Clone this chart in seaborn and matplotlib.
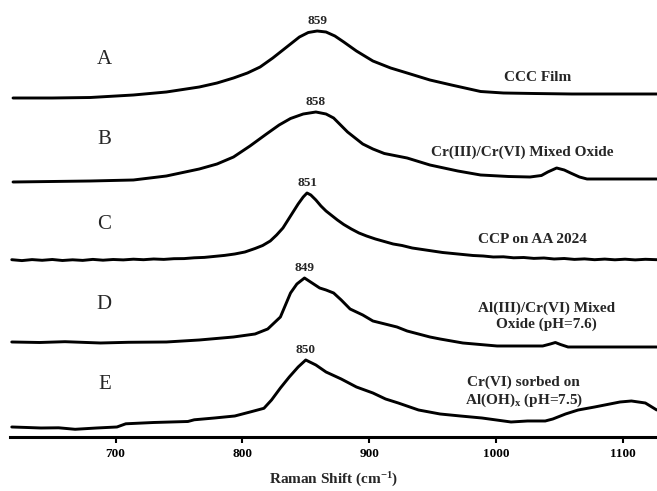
import numpy as np
import pandas as pd
import matplotlib
matplotlib.use("Agg")
import matplotlib.pyplot as plt
import seaborn as sns

# ---- spectra (Raman shift in cm-1, relative intensity in arbitrary units) ----
shift_A = [619, 650, 680, 714, 740, 766, 780, 793, 804, 814, 824, 832, 839, 845, 852,
           859, 866, 873, 880, 890, 903, 917, 930, 948, 965, 988, 1006, 1030, 1060, 1095, 1127]
int_A = [0, 0, 0.5, 3, 6, 11, 15, 20, 25, 31, 40, 48, 55, 61, 65.5,
         67, 66, 62, 56, 47, 37, 30, 25, 18, 13, 6.5, 5, 4.5, 4, 4, 4]

shift_B = [619, 680, 714, 740, 766, 780, 793, 806, 819, 829, 838, 848, 858, 866, 872,
           883, 890, 895, 903, 912, 930, 948, 970, 988, 1010, 1027, 1036, 1041, 1048,
           1054, 1059, 1066, 1072, 1100, 1127]
int_B = [0, 1, 2, 6, 13, 18, 25, 36, 48, 57, 63.5, 68, 70, 68, 64,
         50, 43, 38, 33, 28.5, 24, 17, 11, 7, 5.5, 5, 6.5, 10, 14,
         12, 9, 5, 3, 3, 3]

shift_C = [618, 626, 634, 642, 650, 658, 666, 674, 682, 690, 698, 706, 714, 722, 730,
           738, 746, 754, 762, 770, 778, 786, 794, 802, 810, 816, 822, 827, 832, 836,
           840, 844, 848, 851, 854, 858, 862, 866, 870, 875, 880, 886, 892, 898, 905,
           912, 919, 926, 934, 942, 950, 958, 966, 974, 982, 990, 998, 1006, 1014, 1022,
           1030, 1038, 1046, 1054, 1062, 1070, 1078, 1086, 1094, 1102, 1110, 1118, 1127]
int_C = [0.3, -0.6, 0.4, -0.3, 0.5, -0.5, 0.2, -0.4, 0.6, -0.2, 0.5, 0.1, 0.8, 0.3, 1.0,
         0.6, 1.3, 1.4, 2.2, 2.6, 3.6, 4.6, 6.0, 8.0, 11.5, 14.5, 19, 25, 32, 40,
         48, 56, 63, 67, 65, 60, 54, 49, 45, 40, 35.5, 31, 27, 24, 21,
         18.5, 16, 14.5, 12, 10.5, 9, 7.5, 6.5, 5.5, 4.5, 4.0, 3.0, 3.2, 2.2, 2.5,
         1.6, 2.0, 1.0, 1.5, 0.6, 1.1, 0.3, 0.9, 0.2, 0.8, 0.1, 0.7, 0.3]

shift_D = [618, 640, 660, 688, 710, 740, 766, 793, 810, 820, 830, 838, 843, 849, 855,
           861, 866, 872, 878, 885, 895, 903, 922, 930, 948, 956, 974, 1001, 1020, 1037,
           1043, 1047, 1051, 1057, 1070, 1100, 1127]
int_D = [0, -0.5, 0.3, -1, -0.3, 0, 2, 5, 8, 13, 25, 49, 58, 64, 59,
         54, 52, 49, 42, 33, 27, 21, 15, 11, 5, 3, -1, -4, -4, -4,
         -2, -0.5, -2.5, -5, -5, -5, -5]

shift_E = [618, 630, 641, 655, 668, 685, 701, 708, 730, 757, 762, 778, 794, 807, 817,
           823, 830, 837, 844, 850, 858, 866, 878, 890, 903, 913, 923, 939, 956, 972,
           989, 1012, 1025, 1039, 1045, 1055, 1065, 1078, 1090, 1098, 1107, 1118, 1127]
int_E = [0, -0.5, -1, -0.8, -2.3, -1, 0, 3.2, 4.5, 5.5, 7.2, 9, 11, 15.3, 18.7,
         27, 39, 50, 60, 67, 62, 55, 48, 40, 34, 28, 24, 17, 13, 11,
         9, 5, 6, 6, 8, 13, 17, 20, 23, 25, 26, 24, 17]

letters = ["A", "B", "C", "D", "E"]
peak_labels = ["859", "858", "851", "849", "850"]
sample_names = ["CCC Film",
                "Cr(III)/Cr(VI) Mixed Oxide",
                "CCP on AA 2024",
                "Al(III)/Cr(VI) Mixed\nOxide (pH=7.6)",
                "Cr(VI) sorbed on\nAl(OH)$_\\mathregular{x}$ (pH=7.5)"]
tick_values = [700, 800, 900, 1000, 1100]
x_title = "Raman Shift (cm$^\\mathregular{-1}$)"

# ---- layout: vertical stacking of the traces ----
offsets = [339, 255, 177, 95, 10]
letter_y = [377, 297, 212, 132, 52]
name_xy = [(1033, 359), (1021, 285), (1029, 197), (1040, 121), (1022, 45)]

spectra = [(shift_A, int_A), (shift_B, int_B), (shift_C, int_C),
           (shift_D, int_D), (shift_E, int_E)]

sns.set_theme(style="white")
plt.rcParams["font.family"] = ["Liberation Serif", "DejaVu Serif"]
plt.rcParams["mathtext.fontset"] = "custom"
plt.rcParams["mathtext.rm"] = "Liberation Serif:bold"
plt.rcParams["mathtext.bf"] = "Liberation Serif:bold"
plt.rcParams["mathtext.it"] = "Liberation Serif:bold:italic"

fig = plt.figure(figsize=(6.57, 4.91), dpi=100)
ax = fig.add_axes([0.0152, 0.110, 0.9848, 0.890])

for (sx, sy), off, peak, letter, ly, name, (nx, ny) in zip(
        spectra, offsets, peak_labels, letters, letter_y, sample_names, name_xy):
    df = pd.DataFrame({"shift": sx, "signal": np.asarray(sy, dtype=float) + off})
    sns.lineplot(data=df, x="shift", y="signal", ax=ax, color="black",
                 linewidth=2.1, sort=True, estimator=None)
    pk = float(peak)
    pk_y = np.interp(pk, sx, sy) + off
    ax.annotate(peak, xy=(pk, pk_y), xytext=(0, 3), textcoords="offset points",
                ha="center", va="bottom", fontsize=9.5, fontweight="bold")
    ax.text(691, ly, letter, ha="center", va="center", fontsize=15)
    ax.text(nx, ny, name, ha="center", va="center", fontsize=11,
            fontweight="bold", linespacing=1.25)

ax.set_xlim(616.6, 1127.2)
ax.set_ylim(0, 437)
ax.set_xticks(tick_values)
ax.set_xticklabels([str(t) for t in tick_values], fontsize=9.5, fontweight="bold")
ax.set_yticks([])
ax.set_xlabel(x_title, fontsize=11, fontweight="bold", labelpad=8)
ax.set_ylabel("")

for side in ["top", "left", "right"]:
    ax.spines[side].set_visible(False)
ax.spines["bottom"].set_linewidth(2.2)
ax.spines["bottom"].set_color("black")
ax.tick_params(axis="x", direction="out", length=4, width=1.5, pad=4,
               colors="black", bottom=True)

fig.savefig("out.png", dpi=100)
